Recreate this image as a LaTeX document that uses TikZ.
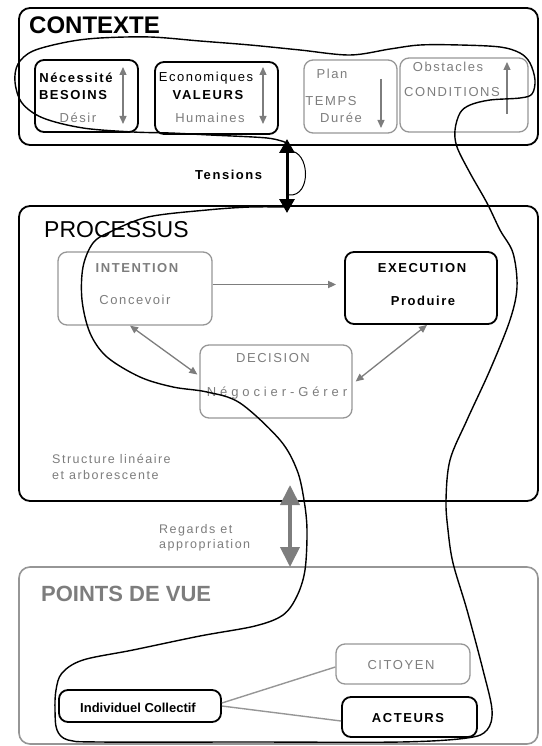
\documentclass[tikz,border=0pt]{standalone}
\usepackage{fontspec}
\setmainfont{Liberation Sans}
\newfontfamily\spfont[LetterSpace=12]{Liberation Sans}
\newfontfamily\wfont[LetterSpace=30]{Liberation Sans}
\usetikzlibrary{arrows.meta}
\definecolor{mgray}{RGB}{125,125,125}
\definecolor{lgray}{RGB}{150,150,150}
\begin{document}
\begin{tikzpicture}[x=1pt,y=-1pt,
  outer/.style={draw=black, line width=1.8pt, rounded corners=11pt, inner sep=0pt},
  outerg/.style={draw=lgray, line width=1.6pt, rounded corners=11pt, inner sep=0pt},
  bbox/.style={draw=black, line width=1.8pt, rounded corners=9pt, inner sep=0pt},
  gbox/.style={draw=lgray, line width=1.3pt, rounded corners=9pt, inner sep=0pt},
  txt/.style={inner sep=0pt, font=\spfont\fontsize{13}{15}\selectfont},
  btxt/.style={inner sep=0pt, font=\spfont\bfseries\fontsize{13}{15}\selectfont},
  gtxt/.style={txt, text=mgray},
  gbtxt/.style={btxt, text=mgray},
  garrow/.style={draw=mgray, line width=1.3pt, -{Triangle[length=8pt,width=7pt]}},
  gdarrow/.style={draw=mgray, line width=1.3pt, {Triangle[length=8pt,width=7pt]}-{Triangle[length=8pt,width=7pt]}},
  loopline/.style={draw=black, line width=1.4pt},
  gline/.style={draw=lgray, line width=1.4pt}
]
\useasboundingbox (0,0) rectangle (541,746);

% ---------- outer boxes ----------
\node[outer, minimum width=519pt, minimum height=137pt] (ctx) at (278.5,76.5) {};
\node[outer, minimum width=519pt, minimum height=295pt] (proc) at (278.5,353.5) {};
\node[outerg, minimum width=519pt, minimum height=177pt] (pdv) at (278.5,655.5) {};

% ---------- titles ----------
\node[anchor=base west, inner sep=0pt, font=\bfseries\fontsize{24}{28}\selectfont] (tctx) at (29,34) {CONTEXTE};
\node[anchor=base west, inner sep=0pt, font=\fontsize{23}{27}\selectfont] (tproc) at (44,237) {PROCESSUS};
\node[anchor=base west, inner sep=0pt, text=mgray, font=\bfseries\fontsize{22}{26}\selectfont] (tpdv) at (41,601) {POINTS DE VUE};

% ---------- contexte boxes ----------
\node[bbox, minimum width=103pt, minimum height=72pt] (b1) at (86.5,96) {};
\node[bbox, minimum width=123pt, minimum height=72pt] (b2) at (216.5,98) {};
\node[gbox, minimum width=93pt, minimum height=73pt] (b3) at (350.5,96.5) {};
\node[gbox, minimum width=128pt, minimum height=74pt] (b4) at (464,95) {};

\node[btxt] (n1a) at (76,78) {Nécessité};
\node[btxt] (n1b) at (73,95) {BESOINS};
\node[gtxt] (n1c) at (78,118) {Désir};
\node[txt] (n2a) at (206,78) {Economiques};
\node[btxt] (n2b) at (208,95) {VALEURS};
\node[gtxt] (n2c) at (210,118) {Humaines};
\node[gtxt] (n3a) at (332,74) {Plan};
\node[gtxt] (n3b) at (331,101) {TEMPS};
\node[gtxt] (n3c) at (341,118) {Durée};
\node[gtxt] (n4a) at (448,67) {Obstacles};
\node[gtxt] (n4b) at (452,92) {CONDITIONS};

\coordinate (a1t) at (123,67);  \coordinate (a1b) at (123,124);
\coordinate (a2t) at (263,67);  \coordinate (a2b) at (263,124);
\coordinate (a3t) at (381,79);  \coordinate (a3b) at (381,128);
\coordinate (a4t) at (507,62);  \coordinate (a4b) at (507,114);
\draw[gdarrow] (a1t) -- (a1b);
\draw[gdarrow] (a2t) -- (a2b);
\draw[garrow] (a3t) -- (a3b);
\draw[garrow] (a4b) -- (a4t);

% ---------- tensions ----------
\coordinate (t1) at (287,139);
\coordinate (t2) at (287,213);
\draw[black, line width=3pt, {Triangle[length=14pt,width=15pt]}-{Triangle[length=14pt,width=15pt]}] (t1) -- (t2);
\coordinate (br1) at (289,151);
\coordinate (br2) at (289,195);
\draw[black, line width=1pt] (br1) .. controls (310,150) and (312,197) .. (br2);
\node[btxt, anchor=base west] (tens) at (195,179) {Tensions};

% ---------- processus boxes ----------
\node[gbox, minimum width=154pt, minimum height=73pt] (int) at (135,288.5) {};
\node[bbox, minimum width=152pt, minimum height=72pt] (exe) at (421,288) {};
\node[gbox, minimum width=152pt, minimum height=73pt] (dec) at (276,381.5) {};

\node[gbtxt] (intt) at (137,268) {INTENTION};
\node[gtxt] (intc) at (135,300) {Concevoir};
\node[btxt] (exet) at (422,268) {EXECUTION};
\node[btxt] (exep) at (423,301) {Produire};
\node[gtxt] (dect) at (273,358) {DECISION};
\node[inner sep=0pt, text=mgray, font=\wfont\fontsize{13}{15}\selectfont] (decn) at (277,393) {Négocier-Gérer};

\draw[garrow, line width=1.7pt, shorten >=8pt] ([yshift=4pt]int.east) -- ([yshift=4pt]int.east -| exe.west);
\draw[gdarrow] ([xshift=-5pt]int.south) -- ([yshift=7pt,xshift=-2pt]dec.west);
\draw[gdarrow] ([xshift=6pt]exe.south) -- ([xshift=3pt]dec.east);

\node[gtxt, anchor=north west, align=left, font=\spfont\fontsize{12.5}{16}\selectfont] (struct) at (52,454) {Structure linéaire\\et arborescente};

% ---------- regards ----------
\coordinate (r1) at (290,485);
\coordinate (r2) at (290,567);
\draw[mgray, line width=4pt, {Triangle[length=20pt,width=19pt]}-{Triangle[length=20pt,width=19pt]}] (r1) -- (r2);
\node[gtxt, anchor=north west, align=left, font=\spfont\fontsize{12.5}{15.5}\selectfont] (reg) at (159,524) {Regards et\\appropriation};

% ---------- points de vue ----------
\node[gbox, minimum width=134pt, minimum height=40pt] (cit) at (403,664) {};
\node[bbox, minimum width=135pt, minimum height=40pt] (act) at (409.5,717) {};
\node[bbox, minimum width=162pt, minimum height=32pt] (ind) at (140,706) {};
\node[gtxt] (citt) at (401,665) {CITOYEN};
\node[btxt] (actt) at (408,718) {ACTEURS};
\node[inner sep=0pt, font=\bfseries\fontsize{13}{15}\selectfont] (indt) at (138,708) {Individuel Collectif};
\draw[gline] ([yshift=3pt]ind.east) -- ([yshift=-3pt]cit.west);
\draw[gline] ([yshift=0pt]ind.east) -- ([yshift=-4pt]act.west);

% ---------- freehand loop ----------
\draw[loopline] plot[smooth, tension=0.55] coordinates {
(287,143) (267,138) (210,135) (170,133) (133,132) (83,128) (43,118) (22,103) (15,82) (18,64)
(33,51) (67,42) (100,38) (150,37) (200,41) (250,45) (300,50) (350,55) (390,49) (420,45)
(460,45) (500,47) (520,53) (530,63) (535,80) (532,94) (520,98) (490,100) (470,105) (460,113)
(455,130) (457,147) (470,173) (487,203) (500,230) (513,253) (517,287) (510,320) (490,370)
(467,420) (450,460) (446,500) (448,530) (453,563) (467,610) (483,670) (492,710) (487,730)
(467,738) (400,742) (250,742) (100,742) (68,740) (57,730) (55,710) (56,690) (62,673) (83,660)
(133,650) (200,636) (255,626) (283,615) (297,596) (305,570) (307,530) (304,500) (297,470)
(280,440) (240,403) (207,392) (173,387) (140,377) (107,357) (90,333) (82,300) (83,267)
(93,243) (110,232) (148,217) (207,210) (250,207) (287,207)};
\end{tikzpicture}
\end{document}
